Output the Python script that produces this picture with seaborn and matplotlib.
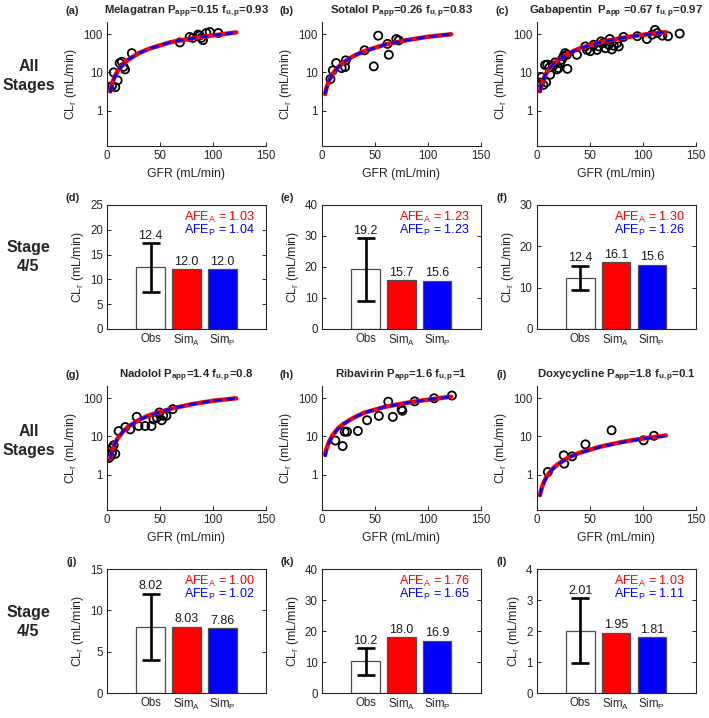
import numpy as np
import matplotlib
matplotlib.use("Agg")
import matplotlib.pyplot as plt
from matplotlib.ticker import NullLocator, FixedLocator
import seaborn as sns

## values
gfr_line = [3, 4, 5, 7, 10, 15, 20, 30, 40, 60, 80, 100, 122]

## (a) melagatran
mel_gfr = [2.2, 4.7, 7.8, 6.3, 10, 11.9, 14, 15.6, 17, 23.4, 68.8, 78, 81, 86, 87.5, 89, 90.6, 93.8, 97, 105]
mel_cl = [4.1, 4.4, 4.1, 10, 6.2, 17.6, 19, 14, 12, 32, 61, 85, 80, 98, 92, 80, 70, 108, 115, 108]
mel_sim_a = [3.2, 4.3, 5.4, 7.5, 11, 16, 21.5, 32, 42, 62, 78, 93, 112]
mel_sim_p = [2.9, 4.0, 5.1, 7.3, 10.8, 16, 21.5, 32, 42, 62, 78, 93, 112]

## (b) sotalol
sot_gfr = [8.1, 10.3, 13.5, 18.7, 21.9, 22.6, 40.3, 49, 53.2, 62, 63.2, 70.3, 72.6]
sot_cl = [6.7, 11.3, 17.6, 13, 13.8, 20.7, 38, 14.4, 92, 56, 29, 75, 69]
sot_sim_a = [2.7, 3.6, 4.5, 6.3, 9, 13.5, 18, 27, 36, 54, 70, 86, 100]
sot_sim_p = [2.7, 3.6, 4.5, 6.3, 9, 13.5, 18, 27, 36, 54, 70, 86, 100]

## (c) gabapentin
gab_gfr = [1.6, 3.2, 4.7, 6.3, 8.9, 7.9, 10, 12, 12.7, 15.8, 17.4, 19, 20.6, 22, 23.7, 25.3,
           26.9, 29, 28.5, 38, 45.9, 47.5, 50.6, 53.8, 57, 58.5, 60.8, 63, 65, 68, 69, 71,
           72.8, 76, 77.5, 82, 95, 104, 109, 111.7, 114, 118.7, 124, 135]
gab_cl = [4.4, 5.4, 7.5, 4.7, 5.5, 15.6, 16, 13.5, 8.7, 15, 18.3, 12, 13, 17.5, 21.6, 26.5,
          32, 12.4, 29, 29, 48, 39, 36, 53, 39, 48, 65, 59, 43, 53, 75, 40,
          50, 59, 48, 85, 89, 75, 98, 130, 108, 92, 89, 104]
gab_sim_a = [3.2, 4.3, 5.3, 7.4, 10.6, 16, 21, 31.5, 42, 62, 80, 97, 113]
gab_sim_p = [3.0, 4.1, 5.2, 7.3, 10.5, 16, 21, 31.5, 42, 62, 80, 97, 113]

## (g) nadolol
nad_gfr = [1.6, 3.1, 4.7, 6.3, 7.8, 4.7, 10.9, 17.2, 21.9, 28, 29.7, 36, 42, 43.8, 47, 49.4, 51.6, 53, 56, 62]
nad_cl = [2.7, 3.0, 3.7, 5.9, 3.5, 5.0, 13.8, 17.6, 15.3, 32.6, 18.8, 18.8, 18.8, 28, 31, 42.5, 26.5, 35, 35, 52]
nad_sim_a = [2.6, 3.5, 4.4, 6.2, 8.9, 13.3, 18, 27, 36, 53, 70, 86, 100]
nad_sim_p = [2.6, 3.5, 4.4, 6.2, 8.9, 13.3, 18, 27, 36, 53, 70, 86, 100]

## (h) ribavirin
rib_gfr = [12.7, 19.6, 21.5, 23.7, 34, 42.7, 53.8, 62.7, 67, 75.3, 76, 87.7, 106, 122.8]
rib_cl = [7.8, 5.6, 13.3, 13.3, 13.9, 26.6, 34.6, 81.5, 32.6, 52, 47, 83, 100, 118]
rib_sim_a = [3.4, 4.4, 5.4, 7.5, 10.7, 16, 21, 31, 42, 60, 76, 92, 110]
rib_sim_p = [2.9, 3.9, 5.0, 7.1, 10.3, 15.5, 21, 31, 42, 60, 76, 92, 110]

## (i) doxycycline
dox_gfr = [10.5, 25.5, 26, 33.4, 46, 70.7, 101, 110.8]
dox_cl = [1.17, 3.2, 1.94, 3.0, 6.2, 14.5, 7.9, 10.4]
dox_sim_a = [0.29, 0.38, 0.47, 0.66, 0.95, 1.42, 1.88, 2.8, 3.7, 5.4, 7.1, 8.8, 10.6]
dox_sim_p = [0.27, 0.36, 0.45, 0.64, 0.92, 1.38, 1.84, 2.75, 3.65, 5.3, 7.0, 8.7, 10.4]

titles = ["Melagatran P$_\\mathbf{app}$=0.15 f$_\\mathbf{u,p}$=0.93",
          "Sotalol P$_\\mathbf{app}$=0.26 f$_\\mathbf{u,p}$=0.83",
          "Gabapentin  P$_\\mathbf{app}$ =0.67 f$_\\mathbf{u,p}$=0.97",
          "Nadolol P$_\\mathbf{app}$=1.4 f$_\\mathbf{u,p}$=0.8",
          "Ribavirin P$_\\mathbf{app}$=1.6 f$_\\mathbf{u,p}$=1",
          "Doxycycline P$_\\mathbf{app}$=1.8 f$_\\mathbf{u,p}$=0.1"]

## stage 4/5 bars: obs mean, obs sd, sim_A, sim_P
bar_labels = ["Obs", "Sim$_\\mathregular{A}$", "Sim$_\\mathregular{P}$"]
obs_mean = [12.4, 19.2, 12.4, 8.02, 10.2, 2.01]
obs_sd = [4.85, 10.05, 2.9, 4.0, 4.25, 1.04]
simA_mean = [12.0, 15.7, 16.1, 8.03, 18.0, 1.95]
simP_mean = [12.0, 15.6, 15.6, 7.86, 16.9, 1.81]
afe_a = ["1.03", "1.23", "1.30", "1.00", "1.76", "1.03"]
afe_p = ["1.04", "1.23", "1.26", "1.02", "1.65", "1.11"]
bar_ymax = [25, 40, 30, 15, 40, 4]
bar_ystep = [5, 10, 10, 5, 10, 1]

scatter_sets = [(mel_gfr, mel_cl, mel_sim_a, mel_sim_p),
                (sot_gfr, sot_cl, sot_sim_a, sot_sim_p),
                (gab_gfr, gab_cl, gab_sim_a, gab_sim_p),
                (nad_gfr, nad_cl, nad_sim_a, nad_sim_p),
                (rib_gfr, rib_cl, rib_sim_a, rib_sim_p),
                (dox_gfr, dox_cl, dox_sim_a, dox_sim_p)]

## style
sns.set_style("ticks")
plt.rcParams["font.family"] = ["Liberation Sans", "DejaVu Sans"]
plt.rcParams["mathtext.fontset"] = "custom"
plt.rcParams["mathtext.rm"] = "Liberation Sans"
plt.rcParams["mathtext.it"] = "Liberation Sans:italic"
plt.rcParams["mathtext.bf"] = "Liberation Sans:bold"
plt.rcParams["xtick.direction"] = "in"
plt.rcParams["ytick.direction"] = "in"
plt.rcParams["axes.edgecolor"] = "0.15"
plt.rcParams["axes.linewidth"] = 0.8

fig = plt.figure(figsize=(7.09, 7.18), dpi=100)

lefts = [0.151, 0.454, 0.757]
width = 0.224
height = 0.1727
scatter_bottoms = [0.7967, 0.2897]
bar_bottoms = [0.5418, 0.0348]
letters_sc = ["(a)", "(b)", "(c)", "(g)", "(h)", "(i)"]
letters_bar = ["(d)", "(e)", "(f)", "(j)", "(k)", "(l)"]
ylab = "CL$_\\mathregular{r}$ (mL/min)"


def style_ticks(ax):
    ax.tick_params(labelsize=8.3, length=3, width=0.7, pad=3, colors="0.15")


for i, (gx, gy, sa, sp) in enumerate(scatter_sets):
    row, col = divmod(i, 3)
    ax = fig.add_axes([lefts[col], scatter_bottoms[row], width, height])
    sns.scatterplot(x=gx, y=gy, ax=ax, marker="o", s=34, facecolor="none",
                    edgecolor="black", linewidth=1.3, zorder=2)
    sns.lineplot(x=gfr_line, y=sa, ax=ax, color="#ff0000", lw=3.2, zorder=3)
    sns.lineplot(x=gfr_line, y=sp, ax=ax, color="#0000ff", lw=2.0, zorder=4,
                 linestyle=(0, (3, 1.6)))
    ax.set_yscale("log")
    ax.set_ylim(0.118, 210)
    ax.set_xlim(0, 150)
    ax.set_xticks([0, 50, 100, 150])
    ax.yaxis.set_major_locator(FixedLocator([1, 10, 100]))
    ax.yaxis.set_minor_locator(NullLocator())
    ax.set_yticklabels(["1", "10", "100"])
    sns.despine(ax=ax)
    style_ticks(ax)
    ax.set_xlabel("GFR (mL/min)", fontsize=8.8, color="0.15", labelpad=4)
    ax.set_ylabel(ylab, fontsize=8.8, color="0.15", labelpad=3)
    ax.text(0.5, 1.065, titles[i], transform=ax.transAxes, ha="center",
            va="baseline", fontsize=8.2, fontweight="bold")
    ax.text(-0.22, 1.065, letters_sc[i], transform=ax.transAxes, ha="center",
            va="baseline", fontsize=8, fontweight="bold")

for i in range(6):
    row, col = divmod(i, 3)
    ax = fig.add_axes([lefts[col], bar_bottoms[row], width, height])
    vals = [obs_mean[i], simA_mean[i], simP_mean[i]]
    sns.barplot(x=bar_labels, y=vals, hue=bar_labels, ax=ax, legend=False,
                palette=["white", "#ff0000", "#0000ff"], width=0.8,
                edgecolor="0.3", linewidth=0.9, saturation=1)
    ax.errorbar([0], [obs_mean[i]], yerr=[obs_sd[i]], color="black", lw=1.9,
                capsize=6.5, capthick=1.9, zorder=5)
    tops = [obs_mean[i] + obs_sd[i], simA_mean[i], simP_mean[i]]
    for k, v in enumerate(vals):
        s = f"{v:.1f}" if v >= 10 else f"{v:.2f}"
        ax.annotate(s, (k, tops[k]), xytext=(0, 1), textcoords="offset points",
                    ha="center", va="bottom", fontsize=9, color="0.1")
    ax.set_xlim(-1.22, 3.22)
    ax.set_ylim(0, bar_ymax[i])
    ax.set_yticks(np.arange(0, bar_ymax[i] + bar_ystep[i] / 2, bar_ystep[i]))
    for sp_ in ax.spines.values():
        sp_.set_visible(True)
        sp_.set_color("0.15")
    style_ticks(ax)
    ax.tick_params(right=True, top=False, bottom=False)
    ax.set_xlabel("")
    ax.set_ylabel(ylab, fontsize=8.8, color="0.15", labelpad=3)
    ax.text(0.93, 0.875, "AFE$_\\mathregular{A}$ = " + afe_a[i], transform=ax.transAxes,
            ha="right", va="baseline", fontsize=9, color="#ff0000")
    ax.text(0.93, 0.765, "AFE$_\\mathregular{P}$ = " + afe_p[i], transform=ax.transAxes,
            ha="right", va="baseline", fontsize=9, color="#0000ff")
    ax.text(-0.22, 1.035, letters_bar[i], transform=ax.transAxes, ha="center",
            va="baseline", fontsize=8, fontweight="bold")

## row labels
for y, lab in [(0.894, "All\nStages"), (0.642, "Stage\n4/5"),
               (0.386, "All\nStages"), (0.134, "Stage\n4/5")]:
    fig.text(0.04, y, lab, ha="center", va="center", fontsize=11.5,
             fontweight="bold", linespacing=1.35)

fig.savefig("out.png", dpi=100)
